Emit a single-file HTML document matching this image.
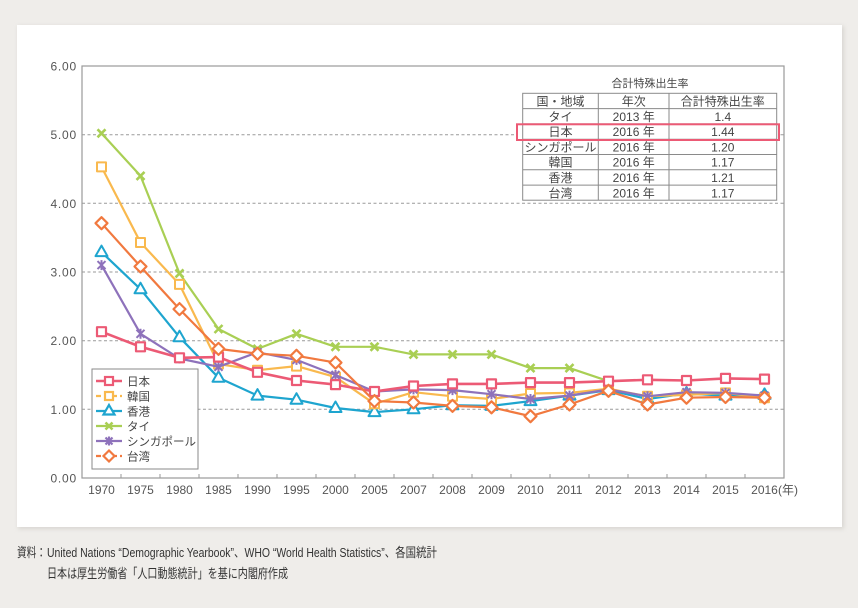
<!DOCTYPE html>
<html><head><meta charset="utf-8"><style>
html,body{margin:0;padding:0;background:#efedea;}
svg{display:block;}
text{font-family:"Liberation Sans","Noto Sans CJK JP",sans-serif;}
</style></head><body>
<svg width="858" height="608" viewBox="0 0 858 608" xmlns="http://www.w3.org/2000/svg">
<defs>
<filter id="sh" x="-5%" y="-5%" width="110%" height="110%"><feGaussianBlur stdDeviation="2"/></filter>
</defs>
<rect x="0" y="0" width="858" height="608" fill="#efedea"/>
<rect x="18" y="26" width="826" height="503" fill="#d8d6d2" filter="url(#sh)"/>
<rect x="17" y="25" width="825" height="502" fill="#ffffff"/>

<!-- grid -->
<g stroke="#9a9a9a" stroke-width="1" stroke-dasharray="3,2.5" fill="none">
<line x1="82" y1="134.7" x2="784" y2="134.7"/>
<line x1="82" y1="203.3" x2="784" y2="203.3"/>
<line x1="82" y1="272" x2="784" y2="272"/>
<line x1="82" y1="340.7" x2="784" y2="340.7"/>
<line x1="82" y1="409.3" x2="784" y2="409.3"/>
</g>
<rect x="82" y="66" width="702" height="412" fill="none" stroke="#9a9a9a" stroke-width="1.2"/>
<g stroke="#9a9a9a" stroke-width="1">
<line x1="121" y1="474" x2="121" y2="478"/><line x1="160" y1="474" x2="160" y2="478"/><line x1="199" y1="474" x2="199" y2="478"/><line x1="238" y1="474" x2="238" y2="478"/><line x1="277" y1="474" x2="277" y2="478"/><line x1="316" y1="474" x2="316" y2="478"/><line x1="355" y1="474" x2="355" y2="478"/><line x1="394" y1="474" x2="394" y2="478"/><line x1="433" y1="474" x2="433" y2="478"/><line x1="472" y1="474" x2="472" y2="478"/><line x1="511" y1="474" x2="511" y2="478"/><line x1="550" y1="474" x2="550" y2="478"/><line x1="589" y1="474" x2="589" y2="478"/><line x1="628" y1="474" x2="628" y2="478"/><line x1="667" y1="474" x2="667" y2="478"/><line x1="706" y1="474" x2="706" y2="478"/><line x1="745" y1="474" x2="745" y2="478"/>
</g>

<!-- y labels -->
<g font-size="12" fill="#555" text-anchor="end" letter-spacing="0.8">
<text x="77" y="70.5">6.00</text>
<text x="77" y="139">5.00</text>
<text x="77" y="208">4.00</text>
<text x="77" y="276.5">3.00</text>
<text x="77" y="345">2.00</text>
<text x="77" y="414">1.00</text>
<text x="77" y="482.5">0.00</text>
</g>
<!-- x labels -->
<g font-size="12" fill="#555" text-anchor="middle">
<text x="101.5" y="494">1970</text><text x="140.5" y="494">1975</text><text x="179.5" y="494">1980</text><text x="218.5" y="494">1985</text><text x="257.5" y="494">1990</text><text x="296.5" y="494">1995</text><text x="335.5" y="494">2000</text><text x="374.5" y="494">2005</text><text x="413.5" y="494">2007</text><text x="452.5" y="494">2008</text><text x="491.5" y="494">2009</text><text x="530.5" y="494">2010</text><text x="569.5" y="494">2011</text><text x="608.5" y="494">2012</text><text x="647.5" y="494">2013</text><text x="686.5" y="494">2014</text><text x="725.5" y="494">2015</text><text x="764.5" y="494">2016</text>
</g>
<text x="778" y="494" font-size="12" fill="#555">(年)</text>

<!-- Thailand -->
<g stroke="#a9cf54" stroke-width="2.2" fill="none" stroke-linejoin="round">
<polyline points="101.5,133.3 140.5,175.9 179.5,273.4 218.5,329 257.5,348.9 296.5,333.8 335.5,346.8 374.5,346.8 413.5,354.4 452.5,354.4 491.5,354.4 530.5,368.1 569.5,368.1 608.5,381.2"/>
<g stroke-width="2.6">
<path d="M97.5,129.3l8,8m0,-8l-8,8"/><path d="M136.5,171.9l8,8m0,-8l-8,8"/><path d="M175.5,269.4l8,8m0,-8l-8,8"/><path d="M214.5,325l8,8m0,-8l-8,8"/><path d="M253.5,344.9l8,8m0,-8l-8,8"/><path d="M292.5,329.8l8,8m0,-8l-8,8"/><path d="M331.5,342.8l8,8m0,-8l-8,8"/><path d="M370.5,342.8l8,8m0,-8l-8,8"/><path d="M409.5,350.4l8,8m0,-8l-8,8"/><path d="M448.5,350.4l8,8m0,-8l-8,8"/><path d="M487.5,350.4l8,8m0,-8l-8,8"/><path d="M526.5,364.1l8,8m0,-8l-8,8"/><path d="M565.5,364.1l8,8m0,-8l-8,8"/><path d="M604.5,377.2l8,8m0,-8l-8,8"/>
</g></g>

<!-- Hong Kong -->
<g stroke="#1ea5cf" stroke-width="2.2" fill="none" stroke-linejoin="round">
<polyline points="101.5,252.1 140.5,289.2 179.5,337.2 218.5,377.7 257.5,395.6 296.5,399.7 335.5,408 374.5,412.1 413.5,409.3 452.5,405.2 491.5,405.9 530.5,401.1 569.5,395.6 608.5,390.1 647.5,399 686.5,393.5 725.5,395.6 764.5,394.9"/>
<g fill="#fff" stroke-width="2">
<path d="M101.5,245.6l6,10.5h-12z"/><path d="M140.5,282.7l6,10.5h-12z"/><path d="M179.5,330.7l6,10.5h-12z"/><path d="M218.5,371.2l6,10.5h-12z"/><path d="M257.5,389.1l6,10.5h-12z"/><path d="M296.5,393.2l6,10.5h-12z"/><path d="M335.5,401.5l6,10.5h-12z"/><path d="M374.5,405.6l6,10.5h-12z"/><path d="M413.5,402.8l6,10.5h-12z"/><path d="M452.5,398.7l6,10.5h-12z"/><path d="M491.5,399.4l6,10.5h-12z"/><path d="M530.5,394.6l6,10.5h-12z"/><path d="M569.5,389.1l6,10.5h-12z"/><path d="M608.5,383.6l6,10.5h-12z"/><path d="M647.5,392.5l6,10.5h-12z"/><path d="M686.5,387l6,10.5h-12z"/><path d="M725.5,389.1l6,10.5h-12z"/><path d="M764.5,388.4l6,10.5h-12z"/>
</g></g>

<!-- Korea -->
<g stroke="#f9b94e" stroke-width="2.2" fill="none" stroke-linejoin="round">
<polyline points="101.5,166.9 140.5,242.5 179.5,284.4 218.5,364 257.5,370.2 296.5,366.1 335.5,377.1 374.5,403.8 413.5,392.2 452.5,396.3 491.5,399 530.5,393.5 569.5,392.9 608.5,388.7 647.5,396.3 686.5,394.9 725.5,392.9 764.5,397.7"/>
<g fill="#fff" stroke-width="2">
<rect x="97" y="162.4" width="9" height="9"/><rect x="136" y="238" width="9" height="9"/><rect x="175" y="279.9" width="9" height="9"/><rect x="214" y="359.5" width="9" height="9"/><rect x="253" y="365.7" width="9" height="9"/><rect x="292" y="361.6" width="9" height="9"/><rect x="331" y="372.6" width="9" height="9"/><rect x="370" y="399.3" width="9" height="9"/><rect x="409" y="387.7" width="9" height="9"/><rect x="448" y="391.8" width="9" height="9"/><rect x="487" y="394.5" width="9" height="9"/><rect x="526" y="389" width="9" height="9"/><rect x="565" y="388.4" width="9" height="9"/><rect x="604" y="384.2" width="9" height="9"/><rect x="643" y="391.8" width="9" height="9"/><rect x="682" y="390.4" width="9" height="9"/><rect x="721" y="388.4" width="9" height="9"/><rect x="760" y="393.2" width="9" height="9"/>
</g></g>

<!-- Singapore -->
<g stroke="#8e72bb" stroke-width="2.2" fill="none" stroke-linejoin="round">
<polyline points="101.5,265.1 140.5,333.8 179.5,358.5 218.5,366.8 257.5,352.3 296.5,359.9 335.5,375 374.5,391.5 413.5,389.4 452.5,390.1 491.5,394.2 530.5,399 569.5,395.6 608.5,389.4 647.5,396.3 686.5,392.2 725.5,392.9 764.5,395.6"/>
<g stroke-width="2">
<path d="M97.5,261.1l8,8m0,-8l-8,8m4,-9v10"/><path d="M136.5,329.8l8,8m0,-8l-8,8m4,-9v10"/><path d="M175.5,354.5l8,8m0,-8l-8,8m4,-9v10"/><path d="M214.5,362.8l8,8m0,-8l-8,8m4,-9v10"/><path d="M253.5,348.3l8,8m0,-8l-8,8m4,-9v10"/><path d="M292.5,355.9l8,8m0,-8l-8,8m4,-9v10"/><path d="M331.5,371l8,8m0,-8l-8,8m4,-9v10"/><path d="M370.5,387.5l8,8m0,-8l-8,8m4,-9v10"/><path d="M409.5,385.4l8,8m0,-8l-8,8m4,-9v10"/><path d="M448.5,386.1l8,8m0,-8l-8,8m4,-9v10"/><path d="M487.5,390.2l8,8m0,-8l-8,8m4,-9v10"/><path d="M526.5,395l8,8m0,-8l-8,8m4,-9v10"/><path d="M565.5,391.6l8,8m0,-8l-8,8m4,-9v10"/><path d="M604.5,385.4l8,8m0,-8l-8,8m4,-9v10"/><path d="M643.5,392.3l8,8m0,-8l-8,8m4,-9v10"/><path d="M682.5,388.2l8,8m0,-8l-8,8m4,-9v10"/><path d="M721.5,388.9l8,8m0,-8l-8,8m4,-9v10"/><path d="M760.5,391.6l8,8m0,-8l-8,8m4,-9v10"/>
</g></g>

<!-- Japan -->
<g stroke="#ec5a75" stroke-width="2.6" fill="none" stroke-linejoin="round">
<polyline points="101.5,331.7 140.5,346.8 179.5,357.8 218.5,357.1 257.5,372.3 296.5,380.5 335.5,384.6 374.5,391.5 413.5,386 452.5,383.9 491.5,383.9 530.5,382.6 569.5,382.6 608.5,381.2 647.5,379.8 686.5,380.5 725.5,378.4 764.5,379.1"/>
<g fill="#fff" stroke-width="2.2">
<rect x="97" y="327.2" width="9" height="9"/><rect x="136" y="342.3" width="9" height="9"/><rect x="175" y="353.3" width="9" height="9"/><rect x="214" y="352.6" width="9" height="9"/><rect x="253" y="367.8" width="9" height="9"/><rect x="292" y="376" width="9" height="9"/><rect x="331" y="380.1" width="9" height="9"/><rect x="370" y="387" width="9" height="9"/><rect x="409" y="381.5" width="9" height="9"/><rect x="448" y="379.4" width="9" height="9"/><rect x="487" y="379.4" width="9" height="9"/><rect x="526" y="378.1" width="9" height="9"/><rect x="565" y="378.1" width="9" height="9"/><rect x="604" y="376.7" width="9" height="9"/><rect x="643" y="375.3" width="9" height="9"/><rect x="682" y="376" width="9" height="9"/><rect x="721" y="373.9" width="9" height="9"/><rect x="760" y="374.6" width="9" height="9"/>
</g></g>

<!-- Taiwan -->
<g stroke="#f1793f" stroke-width="2.2" fill="none" stroke-linejoin="round">
<polyline points="101.5,223.2 140.5,266.5 179.5,309.1 218.5,348.9 257.5,353.7 296.5,355.8 335.5,362.6 374.5,401.1 413.5,402.5 452.5,405.9 491.5,407.3 530.5,416.2 569.5,404.5 608.5,390.8 647.5,404.5 686.5,397.7 725.5,397 764.5,397.7"/>
<g fill="#fff" stroke-width="2.2">
<path d="M101.5,217.2l6,6l-6,6l-6,-6z"/><path d="M140.5,260.5l6,6l-6,6l-6,-6z"/><path d="M179.5,303.1l6,6l-6,6l-6,-6z"/><path d="M218.5,342.9l6,6l-6,6l-6,-6z"/><path d="M257.5,347.7l6,6l-6,6l-6,-6z"/><path d="M296.5,349.8l6,6l-6,6l-6,-6z"/><path d="M335.5,356.6l6,6l-6,6l-6,-6z"/><path d="M374.5,395.1l6,6l-6,6l-6,-6z"/><path d="M413.5,396.5l6,6l-6,6l-6,-6z"/><path d="M452.5,399.9l6,6l-6,6l-6,-6z"/><path d="M491.5,401.3l6,6l-6,6l-6,-6z"/><path d="M530.5,410.2l6,6l-6,6l-6,-6z"/><path d="M569.5,398.5l6,6l-6,6l-6,-6z"/><path d="M608.5,384.8l6,6l-6,6l-6,-6z"/><path d="M647.5,398.5l6,6l-6,6l-6,-6z"/><path d="M686.5,391.7l6,6l-6,6l-6,-6z"/><path d="M725.5,391l6,6l-6,6l-6,-6z"/><path d="M764.5,391.7l6,6l-6,6l-6,-6z"/>
</g></g>

<!-- Legend -->
<rect x="92" y="369" width="106" height="100" fill="#fff" stroke="#8a8a8a" stroke-width="1"/>
<g stroke-width="2.2" fill="#fff">
<line x1="96" y1="381" x2="122" y2="381" stroke="#ec5a75" stroke-width="2.6"/><rect x="105" y="377" width="8" height="8" stroke="#ec5a75"/>
<line x1="96" y1="396" x2="122" y2="396" stroke="#f9b94e" stroke-dasharray="5,3"/><rect x="105" y="392" width="8" height="8" stroke="#f9b94e"/>
<line x1="96" y1="411" x2="122" y2="411" stroke="#1ea5cf"/><path d="M109,405l5.5,9.5h-11z" stroke="#1ea5cf"/>
<line x1="96" y1="426" x2="122" y2="426" stroke="#a9cf54"/><path d="M105.5,422.5l7,7m0,-7l-7,7" stroke="#a9cf54" stroke-width="2.6"/>
<line x1="96" y1="441" x2="122" y2="441" stroke="#8e72bb"/><path d="M105.5,437.5l7,7m0,-7l-7,7m3.5,-8v9" stroke="#8e72bb"/>
<line x1="96" y1="456" x2="122" y2="456" stroke="#f1793f" stroke-dasharray="5,3"/><path d="M109,450.5l5.5,5.5l-5.5,5.5l-5.5,-5.5z" stroke="#f1793f"/>
</g>
<g font-size="11.5" fill="#444">
<text x="127" y="385.5">日本</text>
<text x="127" y="400.5">韓国</text>
<text x="127" y="415.5">香港</text>
<text x="127" y="430.5">タイ</text>
<text x="127" y="445.5">シンガポール</text>
<text x="127" y="460.5">台湾</text>
</g>

<!-- Table -->
<rect x="518" y="70" width="260" height="131" fill="#fff"/>
<text x="650" y="87" font-size="11" fill="#444" text-anchor="middle">合計特殊出生率</text>
<g stroke="#8a8a8a" stroke-width="1" fill="none">
<rect x="522.7" y="93.3" width="254" height="106.9"/>
<line x1="598.3" y1="93.3" x2="598.3" y2="200.2"/>
<line x1="669" y1="93.3" x2="669" y2="200.2"/>
<line x1="522.7" y1="108.6" x2="776.7" y2="108.6"/>
<line x1="522.7" y1="123.9" x2="776.7" y2="123.9"/>
<line x1="522.7" y1="139.2" x2="776.7" y2="139.2"/>
<line x1="522.7" y1="154.5" x2="776.7" y2="154.5"/>
<line x1="522.7" y1="169.8" x2="776.7" y2="169.8"/>
<line x1="522.7" y1="185.1" x2="776.7" y2="185.1"/>
</g>
<g font-size="12" fill="#444" text-anchor="middle">
<text x="560.5" y="105.5">国・地域</text><text x="633.7" y="105.5">年次</text><text x="722.8" y="105.5">合計特殊出生率</text>
<text x="560.5" y="120.8">タイ</text><text x="633.7" y="120.8">2013 年</text><text x="722.8" y="120.8">1.4</text>
<text x="560.5" y="136.1">日本</text><text x="633.7" y="136.1">2016 年</text><text x="722.8" y="136.1">1.44</text>
<text x="560.5" y="151.4">シンガポール</text><text x="633.7" y="151.4">2016 年</text><text x="722.8" y="151.4">1.20</text>
<text x="560.5" y="166.7">韓国</text><text x="633.7" y="166.7">2016 年</text><text x="722.8" y="166.7">1.17</text>
<text x="560.5" y="182">香港</text><text x="633.7" y="182">2016 年</text><text x="722.8" y="182">1.21</text>
<text x="560.5" y="197.3">台湾</text><text x="633.7" y="197.3">2016 年</text><text x="722.8" y="197.3">1.17</text>
</g>
<rect x="517" y="124.3" width="262" height="15.7" fill="none" stroke="#ec5a75" stroke-width="2"/>

<!-- Caption -->
<g font-size="13" fill="#333">
<text x="17" y="557" textLength="29" lengthAdjust="spacingAndGlyphs">資料：</text>
<text x="47" y="557" textLength="390" lengthAdjust="spacingAndGlyphs">United Nations “Demographic Yearbook”、WHO “World Health Statistics”、各国統計</text>
<text x="47" y="578" textLength="241" lengthAdjust="spacingAndGlyphs">日本は厚生労働省「人口動態統計」を基に内閣府作成</text>
</g>
</svg>
</body></html>
